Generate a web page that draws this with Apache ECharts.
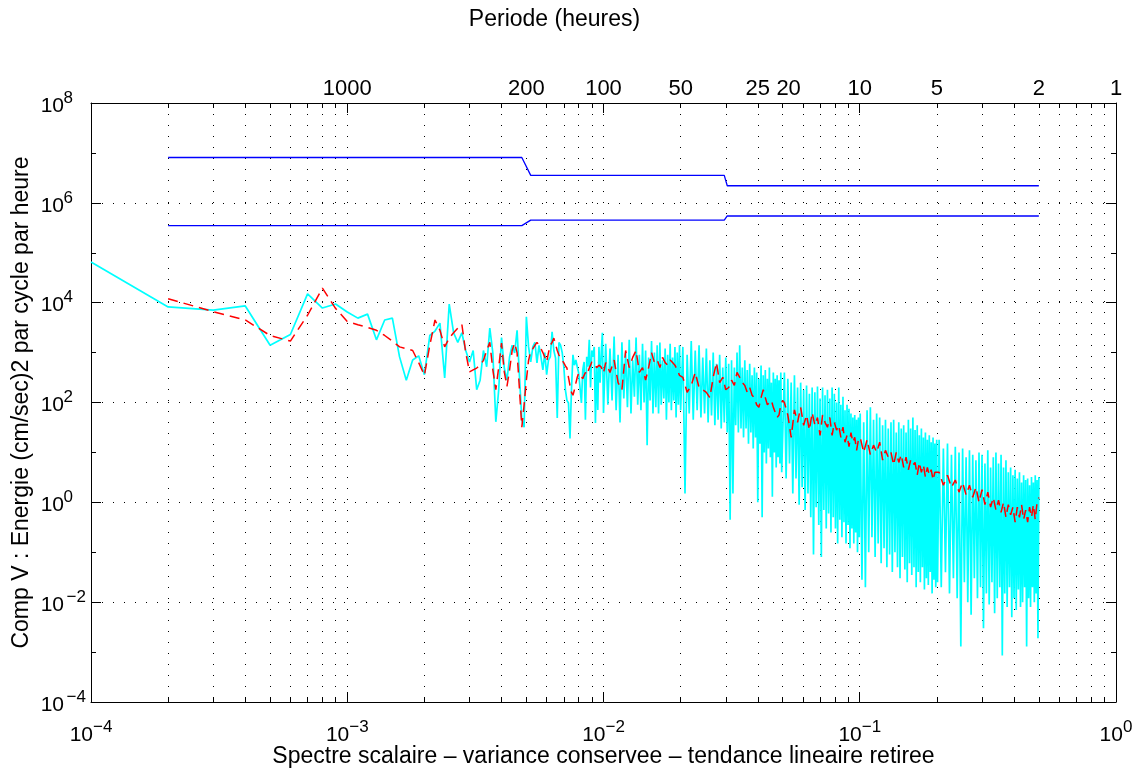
<!DOCTYPE html>
<html>
<head>
<meta charset="utf-8">
<script src="https://cdn.jsdelivr.net/npm/echarts@6/dist/echarts.min.js"></script>
<style>
  html, body { margin: 0; padding: 0; background: #fff; }
  #chart { width: 1142px; height: 775px; }
</style>
</head>
<body>
<div id="chart"></div>
<script>
var DF = 1e-4; // frequency step (cycles per hour)

// top axis: period in hours
var periodTicks = [1000, 200, 100, 50, 25, 20, 10, 5, 2, 1];

// raw spectrum (cyan), harmonics k = 1..100
var cyanLow = [
  6.5e4, 8.2e3, 7.1e3, 8.6e3, 1.4e3, 2.3e3, 1.5e4, 7.8e3, 9.4e3, 6.5e3,
  4.9e3, 5.9e3, 1.8e3, 4.5e3, 4.9e3, 820, 280, 710, 860, 360,
  2.2e3, 2.7e3, 3.9e3, 310, 9.4e3, 2.5e3, 1.6e3, 2.5e3, 1.1e3, 650,
  1.1e3, 180, 280, 1.1e3, 520, 3.1e3, 980, 41, 180, 2.0e3,
  490, 280, 820, 1.4e3, 980, 2.8e3, 330, 45, 32, 5.2e3,
  1.3e3, 650, 1.3e3, 1.6e3, 620, 1.4e3, 820, 450, 1.0e3, 360,
  710, 820, 2.6e3, 1.1e3, 780, 49, 1.6e3, 1.4e3, 1.0e3, 520,
  180, 110, 98, 19, 180, 900, 560, 710, 520, 390,
  360, 98, 450, 650, 45, 820, 520, 1.8e3, 200, 1.1e3,
  820, 1.3e3, 39, 520, 71, 1.3e3, 250, 1.0e3, 2.5e3, 62
];
// k = 102..200 step 2
var cyanSegA = [
  1500, 90, 1200, 110, 2100, 70, 900, 40, 1600, 120,
  1000, 80, 1800, 60, 700, 130, 2000, 90, 900, 70,
  1500, 100, 1100, 14, 800, 110, 1700, 60, 1000, 80,
  1400, 60, 1600, 90, 700, 120, 1200, 45, 900, 100,
  1500, 70, 800, 110, 1300, 50, 1000, 90, 1400, 70
];
// k = 204..496 step 4
var cyanSegB = [
  1300, 1.5, 900, 60, 1700, 45, 1100, 70, 1400, 50,
  800, 60, 1200, 40, 700, 55, 1000, 35, 600, 45,
  900, 30, 500, 40, 800, 25, 600, 0.45, 700, 1.5,
  500, 35, 1000, 25, 1400, 30, 500, 20, 700, 30,
  450, 15, 600, 25, 350, 12, 500, 20, 400, 1.0,
  300, 15, 550, 0.5, 350, 10, 450, 6, 300, 12,
  500, 8, 250, 1.3, 400, 10, 300, 5, 350, 8,
  280, 6, 400, 4
];
// k = 508..996 step 8
var cyanSegC = [
  400, 3, 300, 6, 250, 1.5, 350, 3, 200, 0.9,
  250, 2, 180, 0.7, 220, 1.5, 150, 0.5, 200, 0.09,
  160, 0.8, 210, 0.35, 120, 0.08, 200, 0.7, 140, 0.3,
  180, 0.6, 120, 0.25, 200, 0.5, 150, 0.3, 100, 0.15,
  200, 0.45, 90, 0.2, 130, 0.4, 70, 0.15, 90, 0.35,
  75, 0.12, 60, 0.3, 50, 0.15, 56, 0.25, 45, 0.1,
  50, 0.2
];
// k = 1004..2012 step 16
var cyanSegD = [
  60, 0.028, 40, 0.02, 70, 0.1, 80, 0.2, 45, 0.08,
  60, 0.15, 50, 0.06, 35, 0.12, 45, 0.05, 30, 0.09,
  40, 0.04, 45, 0.1, 25, 0.05, 40, 0.03, 30, 0.08,
  35, 0.045, 25, 0.025, 45, 0.06, 30, 0.035, 50, 0.05,
  28, 0.02, 35, 0.04, 22, 0.025, 30, 0.05, 20, 0.018,
  25, 0.03, 18, 0.022, 22, 0.04, 16, 0.015, 20, 0.028,
  15, 0.02, 18, 0.025
];
// k = 2040..5000 step 40
var cyanSegE = [
  18, 0.02, 12, 0.04, 15, 0.015, 9, 0.03, 13, 0.012,
  10, 0.0013, 12, 0.025, 8, 0.01, 11, 0.0056, 9, 0.03,
  7, 0.012, 10, 0.02, 9, 0.003, 6, 0.015, 11, 0.009,
  5, 0.025, 8, 0.006, 10, 0.012, 6, 0.02, 9, 0.00085,
  5, 0.015, 7, 0.008, 4, 0.02, 5, 0.005, 3.5, 0.012,
  4.5, 0.007, 3, 0.018, 4, 0.008, 2.5, 0.01, 3.5, 0.02,
  2.8, 0.0013, 3, 0.012, 2.2, 0.008, 3.2, 0.02, 2.5, 0.01,
  3.5, 0.015, 2.8, 0.0019, 3.2
];

// smoothed spectrum (red dashed), k = 2..100
var redLow = [
  1.2e4, 6.6e3, 4.5e3, 2.2e3, 1.7e3, 5.6e3, 1.95e4, 7.7e3, 4.2e3, 3.6e3,
  3.2e3, 2.8e3, 2.2e3, 1.7e3, 1.3e3, 1.2e3, 1.1e3, 630, 350, 1.4e3,
  4.5e3, 2.8e3, 1.3e3, 1.95e3, 2.5e3, 3.1e3, 3.7e3, 1.0e3, 410, 450,
  490, 560, 700, 1.1e3, 1.6e3, 450, 180, 510, 1.55e3, 410,
  210, 450, 1.1e3, 1.55e3, 1.0e3, 180, 32, 89, 280, 700,
  1.07e3, 1.2e3, 1.4e3, 1.6e3, 1.4e3, 1.2e3, 1.0e3, 810, 650, 1.0e3,
  1.4e3, 1.6e3, 1.95e3, 2.1e3, 1.1e3, 890, 810, 700, 620, 540,
  490, 320, 220, 160, 140, 180, 245, 320, 390, 380,
  330, 300, 350, 400, 355, 410, 490, 560, 650, 700,
  620, 560, 500, 520, 560, 590, 510, 450, 390
];
// k = 102..198 step 4
var redSegA = [630, 400, 710, 250, 180, 1100, 500, 800, 1100, 400, 500, 280, 500,
  1000, 630, 710, 500, 800, 630, 560, 710, 630, 560, 450, 350];
// k = 204..500 step 8
var redSegB = [320, 160, 220, 400, 200, 180, 160, 125, 320, 630, 250, 320, 180,
  200, 280, 220, 400, 320, 250, 220, 160, 200, 140, 125, 90, 80, 125, 180, 125,
  90, 100, 110, 80, 63, 50, 56, 90, 110];
// k = 508..988 step 16
var redSegC = [100, 56, 20, 71, 40, 80, 35, 56, 28, 63, 35, 50, 22, 56, 40, 32,
  50, 22, 40, 28, 35, 20, 32, 16, 22, 13, 25, 16, 20, 11, 18];
// k = 1004..1964 step 32
var redSegD = [20, 10, 18, 9, 14, 10, 16, 7, 11, 8, 10, 5.6, 10, 6.3, 9, 5, 8, 4.5,
  7, 5.6, 6.3, 3.5, 6.3, 4, 5.6, 3.2, 5, 3.5, 4.5, 2.8, 4];
// k = 2040..5000 step 80
var redSegE = [4, 2.2, 3.5, 2, 2.8, 1.6, 2.5, 1.4, 2.2, 1.26, 2, 1, 1.8, 0.9, 1.6,
  0.8, 1.25, 0.7, 1.1, 0.63, 1, 0.5, 0.9, 0.56, 0.8, 0.4, 0.8, 0.5, 0.9, 0.45,
  0.7, 0.4, 0.8, 0.5, 0.9, 0.45, 1, 1.25];

// confidence interval (blue)
var confFreq = [2e-4, 4.8e-3, 5.2e-3, 0.0296, 0.0304, 0.5];
var confUpper = [8.1e6, 8.1e6, 3.55e6, 3.55e6, 2.2e6, 2.2e6];
var confLower = [3.5e5, 3.5e5, 4.5e5, 4.5e5, 5.45e5, 5.45e5];

function harmonics(values, k0, step) {
  return values.map(function (v, i) { return [(k0 + i * step) * DF, v]; });
}
function pairs(xs, ys) {
  return xs.map(function (x, i) { return [x, ys[i]]; });
}

var cyanData = [].concat(
  harmonics(cyanLow, 1, 1), harmonics(cyanSegA, 102, 2), harmonics(cyanSegB, 204, 4),
  harmonics(cyanSegC, 508, 8), harmonics(cyanSegD, 1004, 16), harmonics(cyanSegE, 2040, 40));
var redData = [].concat(
  harmonics(redLow, 2, 1), harmonics(redSegA, 102, 4), harmonics(redSegB, 204, 8),
  harmonics(redSegC, 508, 16), harmonics(redSegD, 1004, 32), harmonics(redSegE, 2040, 80));

// tick positions
var xDecades = [1e-4, 1e-3, 1e-2, 1e-1, 1];
var xAll = [];
xDecades.slice(0, 4).forEach(function (d) {
  for (var m = 1; m <= 9; m++) xAll.push(m * d);
});
xAll.push(1);
var yAll = [1e-4, 1e-3, 1e-2, 1e-1, 1, 10, 1e2, 1e3, 1e4, 1e5, 1e6, 1e7, 1e8];
var yEven = [1e-4, 1e-2, 1, 1e2, 1e4, 1e6, 1e8];
var periodFreq = periodTicks.map(function (p) { return 1 / p; });

var FONT = '"Liberation Sans", Arial, Helvetica, sans-serif';
var black = '#000';

function powLabel(v) {
  var e = Math.round(Math.log10(v));
  return e < 0 ? '{b|10}{e|\u2212' + (-e) + '}' : '{b|10}{ep|' + e + '}';
}
// "10" sits low, exponent hangs from the top of the line
var baseTok = { fontSize: 21, height: 21, padding: [6, 0, 0, 0], verticalAlign: 'bottom', color: black, fontFamily: FONT };
var richX = {
  b: baseTok,
  e: { fontSize: 17, height: 17, verticalAlign: 'top', color: black, fontFamily: FONT },
  ep: { fontSize: 17, height: 17, verticalAlign: 'top', color: black, fontFamily: FONT }
};
// y labels: every exponent takes the same room so the "10" parts line up
var richY = {
  b: baseTok,
  e: { fontSize: 17, height: 17, width: 22, verticalAlign: 'top', color: black, fontFamily: FONT },
  ep: { fontSize: 17, height: 17, width: 9, padding: [0, 13, 0, 0], verticalAlign: 'top', color: black, fontFamily: FONT }
};
var dotted = { color: black, width: 1, type: [1, 10] };
var titleFont = { fontSize: 23, lineHeight: 23, color: black, fontFamily: FONT };

function baseAxis(extra) {
  var a = {
    type: 'log', logBase: 10,
    nameMoveOverlap: false,
    axisLine: { show: false, lineStyle: { color: black, width: 1 } },
    axisTick: { show: true, inside: true, length: 5, lineStyle: { color: black, width: 1 } },
    axisLabel: { show: false },
    splitLine: { show: false }
  };
  for (var key in extra) a[key] = extra[key];
  return a;
}

var chart = echarts.init(document.getElementById('chart'), null, { renderer: 'canvas' });
chart.setOption({
  animation: false,
  backgroundColor: '#fff',
  grid: { left: 91, right: 26, top: 103, bottom: 73, containLabel: false, outerBoundsMode: 'none' },
  xAxis: [
    baseAxis({
      position: 'bottom', min: 1e-4, max: 1,
      axisLine: { show: true, lineStyle: { color: black, width: 1 } },
      axisTick: { show: true, inside: true, length: 10, customValues: xDecades, lineStyle: { color: black } },
      axisLabel: { show: true, customValues: xDecades, margin: 17, formatter: powLabel, rich: richX },
      name: 'Spectre scalaire \u2013 variance conservee \u2013 tendance lineaire retiree',
      nameLocation: 'middle', nameGap: 43,
      nameTextStyle: titleFont
    }),
    baseAxis({
      position: 'bottom', min: 1e-4, max: 1,
      axisTick: { show: true, inside: true, length: 5, customValues: xAll, lineStyle: { color: black } },
      splitLine: { show: true, lineStyle: dotted }
    }),
    baseAxis({
      position: 'top', min: 1e-4, max: 1,
      axisLine: { show: true, lineStyle: { color: black, width: 1 } },
      axisTick: { show: true, inside: true, length: 10, customValues: xDecades, lineStyle: { color: black } },
      axisLabel: {
        show: true, customValues: periodFreq, margin: 3,
        formatter: function (v) {
          var p = Math.round(1 / v);
          return p === 20 ? '{r|' + p + '}' : '{n|' + p + '}';
        },
        rich: {
          n: { fontSize: 22, color: black, fontFamily: FONT },
          r: { fontSize: 22, color: black, fontFamily: FONT, padding: [0, 0, 0, 12] }
        }
      },
      name: 'Periode (heures)', nameLocation: 'middle', nameGap: 72,
      nameTextStyle: { fontSize: 23, lineHeight: 23, color: black, fontFamily: FONT, padding: [0, 98, 0, 0] }
    }),
    baseAxis({
      position: 'top', min: 1e-4, max: 1,
      axisTick: { show: true, inside: true, length: 5, customValues: xAll, lineStyle: { color: black } }
    })
  ],
  yAxis: [
    baseAxis({
      position: 'left', min: 1e-4, max: 1e8,
      axisLine: { show: true, lineStyle: { color: black, width: 1 } },
      axisTick: { show: true, inside: true, length: 10, customValues: yEven, lineStyle: { color: black } },
      axisLabel: { show: true, customValues: yEven, margin: 5, formatter: powLabel, rich: richY },
      splitLine: { show: true, lineStyle: dotted },
      name: 'Comp V : Energie (cm/sec)2 par cycle par heure',
      nameLocation: 'middle', nameGap: 58,
      nameTextStyle: titleFont
    }),
    baseAxis({
      position: 'left', min: 1e-4, max: 1e8,
      axisTick: { show: true, inside: true, length: 5, customValues: yAll, lineStyle: { color: black } }
    }),
    baseAxis({
      position: 'right', min: 1e-4, max: 1e8,
      axisLine: { show: true, lineStyle: { color: black, width: 1 } },
      axisTick: { show: true, inside: true, length: 10, customValues: yEven, lineStyle: { color: black } }
    }),
    baseAxis({
      position: 'right', min: 1e-4, max: 1e8,
      axisTick: { show: true, inside: true, length: 5, customValues: yAll, lineStyle: { color: black } }
    })
  ],
  series: [
    {
      name: 'brut', type: 'line', xAxisIndex: 0, yAxisIndex: 0,
      data: cyanData, showSymbol: false, symbol: 'none',
      lineStyle: { color: '#00ffff', width: 1.7 }
    },
    {
      name: 'lisse', type: 'line', xAxisIndex: 0, yAxisIndex: 0,
      data: redData, showSymbol: false, symbol: 'none',
      lineStyle: { color: '#ff0000', width: 1.5, type: [10, 6] }
    },
    {
      name: 'ic sup', type: 'line', xAxisIndex: 0, yAxisIndex: 0,
      data: pairs(confFreq, confUpper), showSymbol: false, symbol: 'none',
      lineStyle: { color: '#0000ff', width: 1.3 }
    },
    {
      name: 'ic inf', type: 'line', xAxisIndex: 0, yAxisIndex: 0,
      data: pairs(confFreq, confLower), showSymbol: false, symbol: 'none',
      lineStyle: { color: '#0000ff', width: 1.3 }
    }
  ]
});
window.addEventListener('resize', function () { chart.resize(); });
</script>
</body>
</html>
